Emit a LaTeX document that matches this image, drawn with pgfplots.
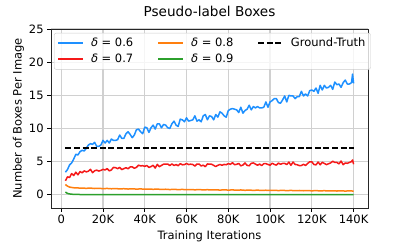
\documentclass[border=0pt]{standalone}
\usepackage{pgfplots}
\pgfplotsset{compat=1.18}
\usepackage{fontspec}
\setmainfont{DejaVu Sans}
\definecolor{cblue}{RGB}{30,144,255}
\definecolor{cred}{RGB}{245,25,25}
\definecolor{corange}{RGB}{255,127,14}
\definecolor{cgreen}{RGB}{44,160,44}
\definecolor{cgrid}{RGB}{208,208,208}
\newcommand\lf{\fontsize{11.5}{13.5}\selectfont}
\begin{document}
\begin{tikzpicture}
\path[use as bounding box] (-51pt,-37pt) rectangle (358pt,208pt);
\begin{axis}[
  at={(0,0)}, anchor=south west,
  scale only axis, width=317pt, height=179pt,
  xmin=-4.9, xmax=146.9, ymin=-2, ymax=25,
  xtick={0,20,40,60,80,100,120,140},
  xticklabels={0,20K,40K,60K,80K,100K,120K,140K},
  ytick={0,5,10,15,20,25},
  yticklabels={0,5,10,15,20,25},
  tick align=outside, xtick pos=bottom, ytick pos=left,
  major tick length=3.85pt,
  tick style={black, line width=0.8pt},
  axis line style={line width=0.9pt, black!85},
  grid=major, grid style={cgrid, line width=1.2pt},
  ticklabel style={font=\lf},
  label style={font=\lf},
  title={Pseudo-label Boxes},
  title style={font=\fontsize{13.6}{16}\selectfont, at={(axis description cs:0.5,1)}, anchor=center, yshift=11.5pt},
  xlabel={Training Iterations},
  xlabel style={at={(axis description cs:0.5,-0.16)}, anchor=center},
  ylabel={Number of Boxes Per Image},
  ylabel style={at={(axis description cs:-0.103,0.5)}, anchor=center},
  legend columns=3,
  legend cell align=left,
  legend image code/.code={\draw[#1] (0pt,0pt) -- (25pt,0pt);},
  legend style={at={(axis description cs:0.0095,0.978)}, anchor=north west,
    draw=black!20, rounded corners=2pt, fill=white, fill opacity=0.8, text opacity=1, draw opacity=1,
    font=\lf, inner xsep=3pt, inner ysep=3pt,
    row sep=2pt,
    /tikz/every odd column/.append style={column sep=5pt},
    /tikz/every even column/.append style={column sep=22pt}},
]
% delta = 0.6
\addplot[cblue, line width=1.5pt, line join=round, forget plot] coordinates {
(2,3.4)(3,3.8)(4,4.5)(5,4.8)(6,5.4)(7,6.1)(8,6.0)(9,6.5)(10,6.7)(11,6.6)
(12,7.0)(13,7.5)(14,7.7)(15,7.6)(16,7.9)(17,7.3)(18,7.3)(19,7.5)(20,8.2)(21,7.8)
(22,8.2)(23,7.8)(24,8.4)(25,8.2)(26,8.2)(27,8.3)(28,9.0)(29,8.5)(30,8.5)(31,9.2)
(32,9.5)(33,9.1)(34,8.6)(35,9.0)(36,9.8)(37,9.9)(38,9.5)(39,9.2)(40,10.2)(41,10.1)
(42,9.4)(43,10.1)(44,10.5)(45,9.9)(46,10.7)(47,10.7)(48,10.1)(49,10.6)(50,10.5)(51,10.1)
(52,10.0)(53,10.7)(54,11.1)(55,10.5)(56,10.3)(57,11.4)(58,11.3)(59,11.0)(60,11.6)(61,11.1)
(62,11.2)(63,11.3)(64,11.9)(65,11.1)(66,11.3)(67,11.0)(68,11.9)(69,12.1)(70,11.3)(71,11.9)
(72,11.8)(73,11.3)(74,12.1)(75,11.7)(76,12.5)(77,12.3)(78,11.9)(79,11.7)(80,12.7)(81,12.9)
(82,13.0)(83,12.9)(84,12.8)(85,12.4)(86,13.2)(87,12.3)(88,12.7)(89,12.9)(90,13.5)(91,12.8)
(92,13.3)(93,13.1)(94,13.3)(95,13.1)(96,13.1)(97,13.2)(98,14.0)(99,13.2)(100,14.0)(101,14.2)
(102,14.5)(103,14.5)(104,13.9)(105,13.8)(106,14.3)(107,14.9)(108,14.0)(109,15.0)(110,14.9)(111,14.9)
(112,14.5)(113,14.8)(114,14.8)(115,15.6)(116,14.9)(117,15.2)(118,14.9)(119,15.7)(120,15.8)(121,15.6)
(122,16.1)(123,15.3)(124,16.5)(125,15.8)(126,16.5)(127,16.1)(128,16.2)(129,16.5)(130,15.9)(131,17.0)
(132,16.6)(133,16.7)(134,16.2)(135,16.9)(136,17.3)(137,16.7)(138,16.7)(139,16.9)(139.5,18.2)(140,16.8)
};
% delta = 0.7
\addplot[cred, line width=1.5pt, line join=round, forget plot] coordinates {
(2,2.1)(3,2.7)(4,2.6)(5,3.2)(6,2.9)(7,3.4)(8,3.0)(9,3.5)(10,3.3)(11,3.6)
(12,3.45)(13,3.55)(14,3.83)(15,3.33)(16,3.61)(17,3.71)(18,3.57)(19,3.67)(20,3.83)(21,3.73)
(22,3.94)(23,3.60)(24,3.74)(25,4.12)(26,4.09)(27,3.93)(28,4.13)(29,3.79)(30,3.94)(31,4.08)
(32,3.92)(33,4.19)(34,4.21)(35,3.99)(36,4.13)(37,4.46)(38,4.36)(39,4.38)(40,4.28)(41,4.41)
(42,4.12)(43,4.25)(44,4.44)(45,4.03)(46,4.58)(47,4.23)(48,4.42)(49,4.61)(50,4.62)(51,4.63)
(52,4.40)(53,4.65)(54,4.42)(55,4.55)(56,4.38)(57,4.69)(58,4.52)(59,4.53)(60,4.72)(61,4.55)
(62,4.61)(63,4.56)(64,4.32)(65,4.63)(66,4.63)(67,4.34)(68,4.46)(69,4.23)(70,4.65)(71,4.60)
(72,4.60)(73,4.43)(74,4.25)(75,4.44)(76,4.56)(77,4.45)(78,4.57)(79,4.52)(80,4.70)(81,4.58)
(82,4.83)(83,4.53)(84,4.59)(85,4.72)(86,4.36)(87,4.48)(88,4.79)(89,4.43)(90,4.37)(91,4.74)
(92,4.80)(93,4.62)(94,4.45)(95,4.63)(96,4.39)(97,4.69)(98,4.69)(99,4.57)(100,4.45)(101,4.76)
(102,4.58)(103,4.47)(104,4.77)(105,4.60)(106,4.72)(107,4.73)(108,4.55)(109,4.92)(110,4.44)(111,4.93)
(112,4.57)(113,4.52)(114,4.40)(115,4.41)(116,4.59)(117,4.42)(118,4.72)(119,4.97)(120,4.97)(121,4.56)
(122,4.51)(123,4.93)(124,4.52)(125,4.89)(126,4.72)(127,4.54)(128,4.67)(129,4.80)(130,5.05)(131,4.87)
(132,4.88)(133,4.65)(134,5.08)(135,4.54)(136,4.79)(137,4.74)(138,4.87)(139,4.99)(139.5,5.25)(140,4.6)
};
% delta = 0.8
\addplot[corange, line width=1.5pt, line join=round, forget plot] coordinates {
(2,1.55)(2.5,1.4)(3,1.3)(4,1.15)(5,1.1)(6,1.05)(8,1.02)(10,1.0)(12,0.97)(14,1.0)
(16,0.94)(18,0.97)(20,0.92)(22,0.95)(24,0.9)(26,0.93)(28,0.88)(30,0.91)(32,0.86)(34,0.9)
(36,0.85)(38,0.88)(40,0.83)(42,0.86)(44,0.82)(46,0.85)(48,0.8)(50,0.83)(52,0.78)(54,0.82)
(56,0.77)(58,0.8)(60,0.76)(62,0.79)(64,0.74)(66,0.78)(68,0.73)(70,0.76)(72,0.72)(74,0.75)
(76,0.7)(78,0.74)(80,0.7)(82,0.73)(84,0.68)(86,0.72)(88,0.67)(90,0.7)(92,0.66)(94,0.69)
(96,0.65)(98,0.68)(100,0.64)(102,0.67)(104,0.63)(106,0.66)(108,0.62)(110,0.65)(112,0.61)(114,0.64)
(116,0.6)(118,0.63)(120,0.59)(122,0.62)(124,0.58)(126,0.61)(128,0.57)(130,0.6)(132,0.56)(134,0.6)
(136,0.55)(138,0.59)(140,0.55)
};
% delta = 0.9
\addplot[cgreen, line width=1.5pt, line join=round, forget plot] coordinates {
(2,0.4)(2.5,0.3)(3,0.2)(4,0.12)(5,0.08)(6,0.06)(8,0.04)(10,0.03)(20,0.02)(40,0.02)
(60,0.02)(80,0.02)(100,0.02)(120,0.02)(140,0.02)
};
% Ground truth
\addplot[black, line width=1.6pt, dash pattern=on 6pt off 2.6pt, forget plot] coordinates {
(2,7.05)(140,7.05)
};
\addlegendimage{cblue, line width=1.8pt, opacity=1}
\addlegendentry{\lf{\itshape δ} = 0.6}
\addlegendimage{corange, line width=1.8pt, opacity=1}
\addlegendentry{\lf{\itshape δ} = 0.8}
\addlegendimage{black, line width=1.6pt, dash pattern=on 6pt off 2.6pt}
\addlegendentry{\lf Ground-Truth}
\addlegendimage{cred, line width=1.8pt, opacity=1}
\addlegendentry{\lf{\itshape δ} = 0.7}
\addlegendimage{cgreen, line width=1.8pt, opacity=1}
\addlegendentry{\lf{\itshape δ} = 0.9}
\end{axis}
\end{tikzpicture}
\end{document}
